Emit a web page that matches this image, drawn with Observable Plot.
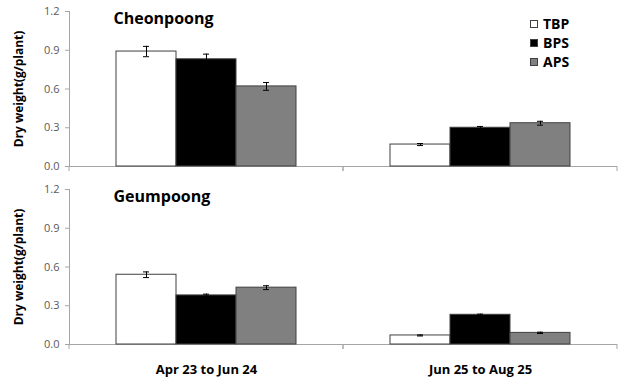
<!DOCTYPE html>
<html>
<head>
<meta charset="utf-8">
<script src="https://cdn.jsdelivr.net/npm/d3@7"></script>
<script src="https://cdn.jsdelivr.net/npm/@observablehq/plot@0.6"></script>
<style>
  html, body { margin: 0; padding: 0; background: #fff; }
  #wrap { position: relative; width: 624px; height: 385px; font-family: "Open Sans", "Noto Sans", sans-serif; }
  #legend { position: absolute; left: 530px; top: 14px; font-weight: bold; font-size: 14px; color: #000; }
  #legend .item { display: flex; align-items: center; height: 19px; }
  #legend .sw { width: 6px; height: 6px; border: 1px solid #404040; margin-right: 5px; }
</style>
</head>
<body>
<div id="wrap"></div>
<script>
// ---- data ----
const cultivars = ["Cheonpoong", "Geumpoong"];
const periods = ["Apr 23 to Jun 24", "Jun 25 to Aug 25"];
const treatments = ["TBP", "BPS", "APS"];
const treatmentColors = ["#ffffff", "#000000", "#808080"];
const yTicks = [0, 0.3, 0.6, 0.9, 1.2];
const yLabel = "Dry weight(g/plant)";

// mean dry weight per period (rows) x treatment (cols)
const cheonpoongMeans = [[0.89, 0.83, 0.62], [0.17, 0.30, 0.335]];
const cheonpoongErrors = [[0.04, 0.04, 0.03], [0.008, 0.01, 0.015]];
const geumpoongMeans = [[0.54, 0.38, 0.44], [0.07, 0.23, 0.09]];
const geumpoongErrors = [[0.022, 0.01, 0.015], [0.004, 0.005, 0.005]];

const meansBy = {Cheonpoong: cheonpoongMeans, Geumpoong: geumpoongMeans};
const errorsBy = {Cheonpoong: cheonpoongErrors, Geumpoong: geumpoongErrors};
const rows = [];
for (const c of cultivars) periods.forEach((p, i) => treatments.forEach((t, j) => {
  rows.push({cultivar: c, period: p, treatment: t, value: meansBy[c][i][j], err: errorsBy[c][i][j]});
}));

const AXIS = "#a6a6a6";
const FONT = "'Open Sans', 'Noto Sans', sans-serif";

function edgeTicks(index, scales, values, dims) {
  const g = d3.create("svg:g").attr("stroke", AXIS);
  const y0 = scales.y(0);
  for (const x of [dims.marginLeft, dims.width - dims.marginRight]) {
    g.append("line").attr("x1", x).attr("x2", x).attr("y1", y0).attr("y2", y0 + 5);
  }
  return g.node();
}

const chart = Plot.plot({
  width: 624,
  height: 385,
  marginLeft: 69,
  marginRight: 7,
  marginTop: 11,
  marginBottom: 40,
  style: {fontFamily: FONT, background: "white"},
  fx: {domain: periods, padding: 0},
  fy: {domain: cultivars, paddingInner: 0.129, paddingOuter: 0, axis: null},
  x: {domain: treatments, paddingInner: 0, paddingOuter: 0.746, axis: null},
  y: {domain: [0, 1.2]},
  color: {domain: treatments, range: treatmentColors},
  marks: [
    Plot.axisY({ticks: yTicks, tickSize: 4, color: AXIS, tickFormat: () => "", label: null}),
    Plot.axisY({ticks: yTicks, tickSize: 0, tickPadding: 10, color: "#595959", fontSize: 11, tickFormat: d3.format(".1f"), label: null}),
    Plot.axisFx({anchor: "bottom", tickSize: 0, tickPadding: 20, label: null, fontSize: 13, fontWeight: "bold", color: "#000"}),
    Plot.frame({anchor: "left", facetAnchor: "left", stroke: AXIS}),
    Plot.ruleY([0], {stroke: AXIS}),
    edgeTicks,
    Plot.barY(rows, {fx: "period", fy: "cultivar", x: "treatment", y: "value", fill: "treatment", stroke: "#404040", strokeWidth: 1}),
    Plot.ruleX(rows, {fx: "period", fy: "cultivar", x: "treatment", y1: d => d.value - d.err, y2: d => d.value + d.err, stroke: "#000", strokeWidth: 1}),
    Plot.tickY(rows, {fx: "period", fy: "cultivar", x: "treatment", y: d => d.value - d.err, stroke: "#000", insetLeft: 27, insetRight: 27}),
    Plot.tickY(rows, {fx: "period", fy: "cultivar", x: "treatment", y: d => d.value + d.err, stroke: "#000", insetLeft: 27, insetRight: 27}),
    Plot.text(cultivars, {fy: d => d, fx: () => periods[0], text: d => d, frameAnchor: "top-left", dx: 44, dy: 1, fontWeight: "bold", fontSize: 16, fill: "#000"}),
    Plot.text(cultivars, {fy: d => d, fx: () => periods[0], text: () => yLabel, frameAnchor: "left", textAnchor: "middle", rotate: -90, dx: -50, fontWeight: "bold", fontSize: 12, fill: "#000"})
  ]
});

const wrap = document.getElementById("wrap");
wrap.appendChild(chart);

const legend = document.createElement("div");
legend.id = "legend";
treatments.forEach((t, i) => {
  const item = document.createElement("div");
  item.className = "item";
  const sw = document.createElement("span");
  sw.className = "sw";
  sw.style.background = treatmentColors[i];
  const label = document.createElement("span");
  label.textContent = t;
  item.appendChild(sw);
  item.appendChild(label);
  legend.appendChild(item);
});
wrap.appendChild(legend);
</script>
</body>
</html>
